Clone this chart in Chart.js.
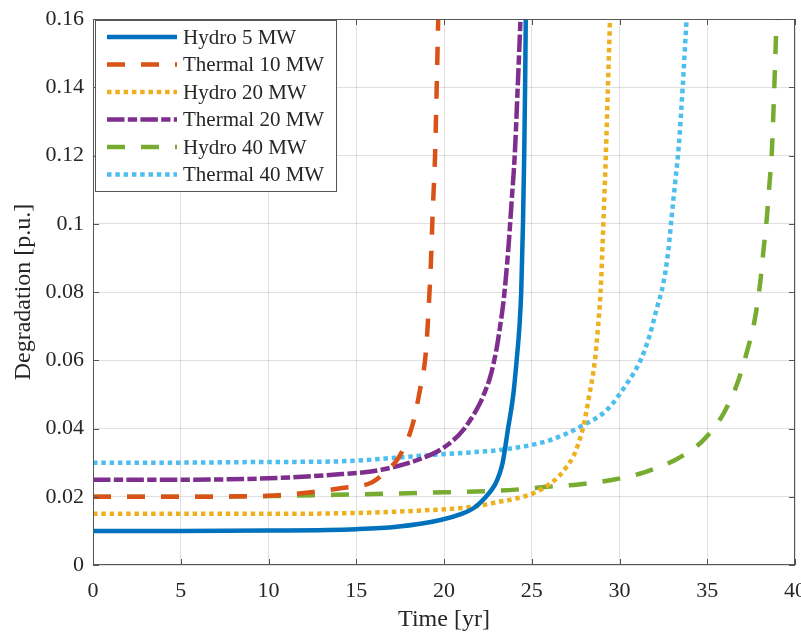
<!DOCTYPE html>
<html>
<head>
<meta charset="utf-8">
<script src="https://cdn.jsdelivr.net/npm/chart.js@4"></script>
<style>
  body { margin: 0; background: #fff; }
  #wrap { width: 801px; height: 635px; }
</style>
</head>
<body>
<div id="wrap"><canvas id="degChart" width="801" height="635"></canvas></div>
<script>
// Series names
const seriesNames = ["Hydro 5 MW", "Thermal 10 MW", "Hydro 20 MW", "Thermal 20 MW", "Hydro 40 MW", "Thermal 40 MW"];

// Time [yr] / degradation [p.u.]
const hydro5T = [0, 5, 10, 15, 17.3, 19.8, 21, 21.7, 22.3, 22.9, 23.15, 23.35, 23.65, 23.95, 24.14, 24.3, 24.4, 24.5, 24.57, 24.62, 24.66];
const hydro5D = [0.01, 0.01, 0.0101, 0.0105, 0.0112, 0.0132, 0.015, 0.0167, 0.0195, 0.0235, 0.0265, 0.0302, 0.04, 0.05, 0.06, 0.07, 0.08, 0.1, 0.12, 0.14, 0.16];

const thermal10T = [0, 5, 10, 12.4, 14.1, 15.88, 16.7, 17.44, 18.19, 18.63, 18.97, 19.12, 19.26, 19.35, 19.49, 19.58, 19.67];
const thermal10D = [0.02, 0.02, 0.0203, 0.0213, 0.0225, 0.0242, 0.0275, 0.0317, 0.0408, 0.0513, 0.0625, 0.0747, 0.0894, 0.1026, 0.12, 0.139, 0.16];

const hydro20T = [0, 5, 10, 13.5, 19.2, 21.7, 23.2, 24.1, 25.07, 26.04, 26.6, 27.0, 27.37, 27.65, 27.94, 28.25, 28.6, 28.78, 28.92, 29.08, 29.22, 29.34, 29.46];
const hydro20D = [0.015, 0.015, 0.015, 0.0151, 0.0161, 0.0171, 0.0186, 0.0195, 0.021, 0.0238, 0.0263, 0.0289, 0.0318, 0.0355, 0.0405, 0.049, 0.06, 0.07, 0.08, 0.1, 0.12, 0.14, 0.16];

const thermal20T = [0, 5, 10, 13.5, 16.5, 19.2, 20.15, 21.1, 22.05, 22.35, 22.6, 22.8, 23.0, 23.2, 23.4, 23.66, 23.86, 24.03, 24.2, 24.36];
const thermal20D = [0.025, 0.025, 0.0254, 0.0264, 0.028, 0.0322, 0.035, 0.0396, 0.0474, 0.051, 0.0545, 0.0585, 0.0635, 0.07, 0.0777, 0.0923, 0.107, 0.12, 0.14, 0.16];

const hydro40T = [0, 5, 10, 15, 20, 23.2, 25.07, 25.85, 27.65, 29.55, 31.45, 33.35, 34.78, 35.95, 36.71, 37.28, 37.72, 38.0, 38.2, 38.4, 38.55, 38.67, 38.8, 38.95];
const hydro40D = [0.02, 0.02, 0.0202, 0.0207, 0.0213, 0.0218, 0.0225, 0.0229, 0.0236, 0.0249, 0.0272, 0.0313, 0.0366, 0.0446, 0.0532, 0.0628, 0.0723, 0.082, 0.092, 0.102, 0.112, 0.12, 0.137, 0.16];

const thermal40T = [0, 5, 10, 13.5, 19.2, 22.05, 23.2, 26.05, 27.94, 29.27, 30.4, 31.2, 31.7, 32.1, 32.5, 32.78, 32.97, 33.17, 33.38, 33.6, 33.82];
const thermal40D = [0.03, 0.03, 0.0302, 0.0303, 0.0322, 0.0332, 0.0337, 0.0366, 0.041, 0.0454, 0.053, 0.06, 0.067, 0.0747, 0.0826, 0.092, 0.102, 0.112, 0.123, 0.14, 0.16];

// Axis ticks
const xTicks = [0, 5, 10, 15, 20, 25, 30, 35, 40];
const yTicks = [0, 0.02, 0.04, 0.06, 0.08, 0.1, 0.12, 0.14, 0.16];
const yTickLabels = ["0", "0.02", "0.04", "0.06", "0.08", "0.1", "0.12", "0.14", "0.16"];

const FONT = "'Liberation Serif', 'Times New Roman', serif";
const AXIS_COLOR = "#555555";
const TEXT_COLOR = "#262626";

function pts(t, d) {
  return t.map((v, i) => ({ x: v, y: d[i] }));
}

// MATLAB-like box, inward ticks and legend
const matlabAxes = {
  id: "matlabAxes",
  afterDatasetsDraw(chart) {
    const { ctx, chartArea: a, scales } = chart;
    const tl = 6;
    ctx.save();
    ctx.strokeStyle = AXIS_COLOR;
    ctx.lineWidth = 1;
    ctx.setLineDash([]);
    ctx.strokeRect(a.left + 0.5, a.top + 0.5, a.right - a.left - 1, a.bottom - a.top - 1);
    ctx.beginPath();
    xTicks.forEach((v) => {
      const px = Math.round(scales.x.getPixelForValue(v)) + 0.5;
      ctx.moveTo(px, a.bottom);
      ctx.lineTo(px, a.bottom - tl);
      ctx.moveTo(px, a.top);
      ctx.lineTo(px, a.top + tl);
    });
    yTicks.forEach((v) => {
      const py = Math.round(scales.y.getPixelForValue(v)) + 0.5;
      ctx.moveTo(a.left, py);
      ctx.lineTo(a.left + tl, py);
      ctx.moveTo(a.right, py);
      ctx.lineTo(a.right - tl, py);
    });
    ctx.stroke();

    // legend
    const bx = a.left + 2, by = a.top + 1, bw = 241, bh = 171;
    ctx.fillStyle = "#fff";
    ctx.fillRect(bx, by, bw, bh);
    ctx.strokeRect(bx + 0.5, by + 0.5, bw, bh);
    ctx.font = "21px " + FONT;
    ctx.textBaseline = "middle";
    ctx.textAlign = "left";
    chart.data.datasets.forEach((ds, i) => {
      const cy = by + 17 + i * 27.5;
      ctx.strokeStyle = ds.borderColor;
      ctx.lineWidth = ds.borderWidth;
      ctx.lineCap = "butt";
      ctx.setLineDash(ds.borderDash || []);
      ctx.beginPath();
      ctx.moveTo(bx + 12, cy);
      ctx.lineTo(bx + 82, cy);
      ctx.stroke();
      ctx.fillStyle = TEXT_COLOR;
      ctx.fillText(ds.label, bx + 88, cy + 1);
    });
    ctx.restore();
  },
};

document.addEventListener("DOMContentLoaded", () => {
  const ctx = document.getElementById("degChart").getContext("2d");

  const styles = [
    { color: "#0072BD", dash: [] },
    { color: "#D95319", dash: [18, 16] },
    { color: "#EDB120", dash: [4.5, 3.8] },
    { color: "#7E2F8E", dash: [17.5, 3.3, 9.3, 3.3] },
    { color: "#77AC30", dash: [18, 16] },
    { color: "#4DBEEE", dash: [4.5, 3.8] },
  ];
  const series = [
    pts(hydro5T, hydro5D),
    pts(thermal10T, thermal10D),
    pts(hydro20T, hydro20D),
    pts(thermal20T, thermal20D),
    pts(hydro40T, hydro40D),
    pts(thermal40T, thermal40D),
  ];

  new Chart(ctx, {
    type: "line",
    data: {
      datasets: series.map((s, i) => ({
        label: seriesNames[i],
        data: s,
        borderColor: styles[i].color,
        backgroundColor: styles[i].color,
        borderDash: styles[i].dash,
        borderWidth: 4.5,
        borderCapStyle: "butt",
        cubicInterpolationMode: "monotone",
        pointRadius: 0,
        fill: false,
      })),
    },
    options: {
      responsive: false,
      animation: false,
      layout: { padding: { top: 19, right: 6, left: 0, bottom: 0 } },
      plugins: {
        legend: { display: false },
        tooltip: { enabled: false },
      },
      scales: {
        x: {
          type: "linear",
          min: 0,
          max: 40,
          afterFit: (scale) => {
            scale.height = 70;
            scale.paddingLeft = 0;
            scale.paddingRight = 0;
          },
          afterBuildTicks: (scale) => { scale.ticks = xTicks.map((v) => ({ value: v })); },
          grid: { color: "rgba(38,38,38,0.14)", drawTicks: false },
          border: { display: false },
          ticks: {
            padding: 13,
            color: TEXT_COLOR,
            font: { family: FONT, size: 22 },
            maxRotation: 0,
          },
          title: {
            display: true,
            text: "Time [yr]",
            color: TEXT_COLOR,
            font: { family: FONT, size: 24 },
            padding: { top: 1, bottom: 1 },
          },
        },
        y: {
          type: "linear",
          min: 0,
          max: 0.16,
          afterFit: (scale) => {
            scale.width = 93;
            scale.paddingTop = 0;
            scale.paddingBottom = 0;
          },
          afterBuildTicks: (scale) => { scale.ticks = yTicks.map((v) => ({ value: v })); },
          grid: { color: "rgba(38,38,38,0.14)", drawTicks: false },
          border: { display: false },
          ticks: {
            padding: 9,
            color: TEXT_COLOR,
            font: { family: FONT, size: 22 },
            callback: (val, idx) => yTickLabels[idx],
          },
          title: {
            display: true,
            text: "Degradation [p.u.]",
            color: TEXT_COLOR,
            font: { family: FONT, size: 24 },
            padding: { top: 9, bottom: 9 },
          },
        },
      },
    },
    plugins: [matlabAxes],
  });
});
</script>
</body>
</html>
